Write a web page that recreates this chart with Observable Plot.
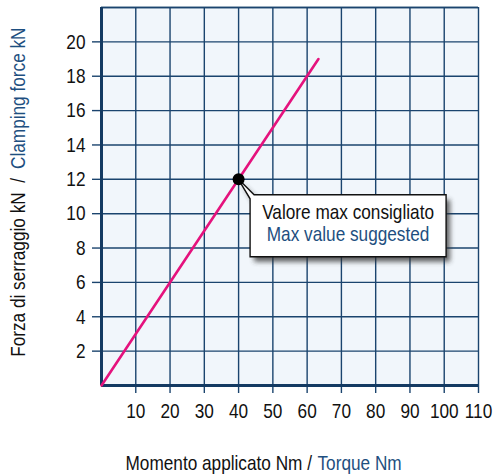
<!DOCTYPE html>
<html>
<head>
<meta charset="utf-8">
<script src="https://cdn.jsdelivr.net/npm/d3@7"></script>
<script src="https://cdn.jsdelivr.net/npm/@observablehq/plot@0.6"></script>
<style>
  html, body { margin: 0; padding: 0; background: #fff; }
</style>
</head>
<body>
<div id="chart"></div>
<script>
// ---- data ----
const torqueNm = [0, 63.3];          // line x values
const forceKN = [0, 19];             // line y values
const maxTorque = 40;                // suggested max point
const maxForce = 12;
const xTicks = [10, 20, 30, 40, 50, 60, 70, 80, 90, 100, 110];
const yTicks = [2, 4, 6, 8, 10, 12, 14, 16, 18, 20];
const yTop = 22;
const xTitleIt = "Momento applicato Nm /";
const xTitleEn = "Torque Nm";
const yTitleIt = "Forza di serraggio kN\u00a0\u00a0/";
const yTitleEn = "Clamping force kN";
const noteIt = "Valore max consigliato";
const noteEn = "Max value suggested";

const FONT = "'Liberation Sans', Arial, sans-serif";
const CONDENSE = 0.82;
const GRID = "#1b446e";
const AXIS = "#143a62";
const BLUE = "#1e4f80";
const PINK = "#e5127d";

const lineData = torqueNm.map((t, i) => ({t, f: forceKN[i]}));

// two-colour axis titles: first part ends at the split point, second starts after it
function titles(index, scales, values, dims) {
  const g = d3.create("svg:g").attr("font-family", FONT).attr("font-size", 21);
  const gx = g.append("g").attr("transform", `translate(0, ${dims.height - 4})`);
  gx.append("text").attr("x", 312).attr("text-anchor", "end").attr("fill", "#111").text(xTitleIt);
  gx.append("text").attr("x", 317.5).attr("text-anchor", "start").attr("fill", BLUE).text(xTitleEn);
  const gy = g.append("g").attr("transform", `translate(25, 201) rotate(-90)`);
  gy.append("text").attr("x", 23).attr("text-anchor", "end").attr("fill", "#111").text(yTitleIt);
  gy.append("text").attr("x", 32).attr("text-anchor", "start").attr("fill", BLUE).text(yTitleEn);
  return g.node();
}

function callout(index, scales, values, dims) {
  const cx = scales.x(maxTorque), cy = scales.y(maxForce);
  const bx = cx + 12, by = cy + 16, bw = 196, bh = 62;
  const g = d3.create("svg:g");
  const defs = g.append("defs");
  defs.append("filter").attr("id", "shadow").attr("x", "-10%").attr("y", "-10%").attr("width", "130%").attr("height", "140%")
    .append("feGaussianBlur").attr("stdDeviation", 2.5);
  const path = `M${cx},${cy} L${bx + 4},${by} L${bx + bw},${by} L${bx + bw},${by + bh} L${bx},${by + bh} L${bx},${by + 4} Z`;
  g.append("path").attr("d", path).attr("transform", "translate(4,5)")
    .attr("fill", "#333").attr("opacity", 0.75).attr("filter", "url(#shadow)");
  g.append("path").attr("d", path).attr("fill", "#fff").attr("stroke", "#111").attr("stroke-width", 1.4)
    .attr("stroke-linejoin", "miter");
  const t = g.append("g").attr("font-family", FONT).attr("font-size", 21).attr("text-anchor", "middle");
  t.append("text").attr("x", bx + bw / 2).attr("y", by + 24).attr("fill", "#111").text(noteIt);
  t.append("text").attr("x", bx + bw / 2).attr("y", by + 46).attr("fill", BLUE).text(noteEn);
  return g.node();
}

const chart = Plot.plot({
  width: 500,
  height: 474,
  marginLeft: 101,
  marginRight: 22,
  marginTop: 7,
  marginBottom: 89,
  style: {fontFamily: FONT, fontSize: "21px", background: "#fff", color: "#111"},
  x: {domain: [0, 110]},
  y: {domain: [0, yTop]},
  marks: [
    Plot.frame({fill: "#f1f6fb", stroke: null}),
    Plot.gridX(xTicks, {stroke: GRID, strokeOpacity: 1, strokeWidth: 1.4}),
    Plot.gridY([...yTicks, yTop], {stroke: GRID, strokeOpacity: 1, strokeWidth: 1.4}),
    Plot.axisX(xTicks, {tickSize: 8, tickPadding: 10, stroke: GRID, strokeWidth: 1.4, fill: "#111", label: null, fontSize: 21}),
    Plot.axisY([...yTicks], {tickSize: 9, tickPadding: 7, stroke: GRID, strokeWidth: 1.4, fill: "#111", label: null, fontSize: 21}),
    Plot.tickY([yTop], {x1: -2, x2: 110, stroke: GRID, strokeWidth: 1.6}),
    Plot.ruleY([0], {stroke: AXIS, strokeWidth: 3}),
    Plot.ruleX([0], {stroke: AXIS, strokeWidth: 3}),
    Plot.line(lineData, {x: "t", y: "f", stroke: PINK, strokeWidth: 2.6}),
    callout,
    Plot.dot([{t: maxTorque, f: maxForce}], {x: "t", y: "f", r: 6, fill: "#000", stroke: null}),
    titles
  ]
});
document.getElementById("chart").appendChild(chart);

// condense every text horizontally about its own anchor x to mimic a narrow typeface
d3.select(chart).selectAll("text").each(function () {
  let x = parseFloat(this.getAttribute("x"));
  if (!isFinite(x)) x = 0;
  const prev = this.getAttribute("transform") || "";
  this.setAttribute("transform",
    `${prev} translate(${x},0) scale(${CONDENSE},1) translate(${-x},0)`.trim());
});
</script>
</body>
</html>
